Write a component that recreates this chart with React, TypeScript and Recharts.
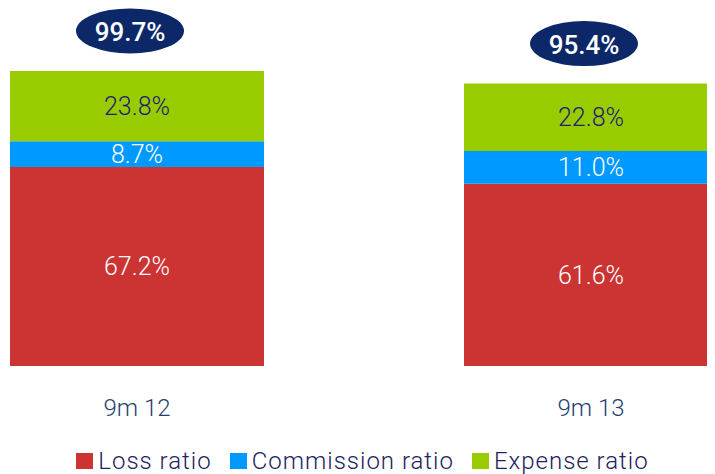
import React from "react";
import { BarChart, Bar, XAxis, YAxis, LabelList, Legend } from "recharts";

const categories = ["9m 12", "9m 13"];
const lossRatio = [67.2, 61.6];
const commissionRatio = [8.7, 11.0];
const expenseRatio = [23.8, 22.8];
const combinedRatio = [99.7, 95.4];

const seriesNames = ["Loss ratio", "Commission ratio", "Expense ratio"];
const seriesColors = ["#CC3333", "#0099FF", "#99CC00"];

const data = categories.map((c, i) => ({
  name: c,
  loss: lossRatio[i],
  commission: commissionRatio[i],
  expense: expenseRatio[i],
  total: combinedRatio[i],
}));

const FONT = "Roboto, 'Open Sans', sans-serif";

const fmt = (v: any) => `${Number(v).toFixed(1)}%`;

const TotalBubble = (props: any) => {
  const { x, y, width, value } = props;
  const cx = Number(x) + Number(width) / 2 - 7;
  const cy = Number(y) - 40;
  return (
    <g>
      <ellipse cx={cx} cy={cy} rx={54} ry={22.5} fill="#0C2868" />
      <text
        x={cx}
        y={cy + 1}
        textAnchor="middle"
        dominantBaseline="central"
        fill="#FFFFFF"
        fontSize={26}
        fontWeight={500}
        fontFamily={FONT}
      >
        {fmt(value)}
      </text>
    </g>
  );
};

const LegendContent = () => (
  <div
    style={{
      display: "flex",
      justifyContent: "center",
      alignItems: "center",
      fontFamily: FONT,
      fontWeight: 300,
      fontSize: 24,
      letterSpacing: "1px",
      lineHeight: "26px",
      color: "#22225E",
      paddingLeft: 2,
    }}
  >
    {seriesNames.map((n, i) => (
      <div key={n} style={{ display: "flex", alignItems: "center", marginRight: i < 2 ? 18 : 0 }}>
        <span
          style={{
            display: "inline-block",
            width: 17,
            height: 16,
            background: seriesColors[i],
            marginRight: 5,
          }}
        />
        <span>{n}</span>
      </div>
    ))}
  </div>
);

export default function App() {
  return (
    <BarChart
      width={707}
      height={466}
      data={data}
      margin={{ top: 62, right: 0, bottom: 0, left: 0 }}
      style={{ fontFamily: FONT }}
    >
      <XAxis
        dataKey="name"
        axisLine={false}
        tickLine={false}
        tickSize={0}
        tickMargin={33}
        height={82}
        padding={{ left: -98, right: -103 }}
        tick={{ fill: "#1F3F6F", fontSize: 24, fontWeight: 300, fontFamily: FONT }}
      />
      <YAxis hide domain={[0, 100]} />
      <Legend verticalAlign="bottom" height={26} content={<LegendContent />} />
      <Bar dataKey="loss" stackId="a" fill={seriesColors[0]} barSize={254} isAnimationActive={false}>
        <LabelList
          dataKey="loss"
          position="center"
          formatter={fmt}
          fill="#FFFFFF"
          fontSize={25}
          fontWeight={300}
          fontFamily={FONT}
        />
      </Bar>
      <Bar dataKey="commission" stackId="a" fill={seriesColors[1]} barSize={254} isAnimationActive={false}>
        <LabelList
          dataKey="commission"
          position="center"
          formatter={fmt}
          fill="#FFFFFF"
          fontSize={25}
          fontWeight={300}
          fontFamily={FONT}
        />
      </Bar>
      <Bar dataKey="expense" stackId="a" fill={seriesColors[2]} barSize={254} isAnimationActive={false}>
        <LabelList
          dataKey="expense"
          position="center"
          formatter={fmt}
          fill="#1F1F6E"
          fontSize={25}
          fontWeight={300}
          fontFamily={FONT}
        />
        <LabelList dataKey="total" content={<TotalBubble />} />
      </Bar>
    </BarChart>
  );
}
